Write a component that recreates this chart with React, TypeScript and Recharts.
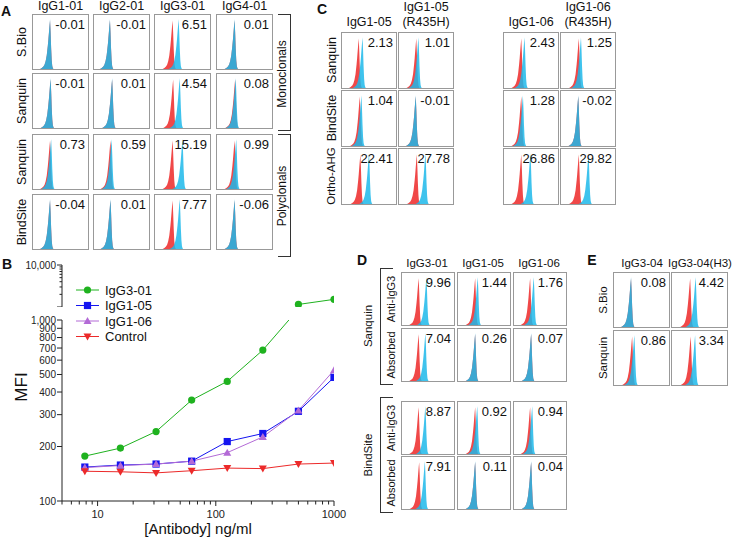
import React from 'react';
import { LineChart, Line, XAxis, YAxis, AreaChart, Area } from 'recharts';

const FONT = '"Liberation Sans", Arial, sans-serif';

// ---- panel B: dose response ----
const DOSES = [7.8, 15.6, 31.25, 62.5, 125, 250, 500, 1000];
const IGG3_01 = [177, 196, 242, 361, 458, 682, 1150, 1520];
const IGG1_05 = [154, 158, 160, 166, 213, 236, 313, 482];
const IGG1_06 = [153, 157, 160, 166, 185, 226, 316, 528];
const CONTROL = [146, 145, 143, 147, 152, 151, 160, 162];

const X_TICKS = [5, 6, 7, 8, 9, 10, 20, 30, 40, 50, 60, 70, 80, 90, 100, 200, 300, 400, 500, 600, 700, 800, 900, 1000];
const Y_LOW_TICKS = [100, 200, 300, 400, 500, 600, 700, 800, 900, 1000];
const Y_HIGH_TICKS = [1000, 2000, 3000, 4000, 5000, 6000, 7000, 8000, 9000, 10000];

// ---- histogram panels ----
// one peak profile read off the cells (offset from apex in % of box width, relative height)
const PEAK_OFFSETS = [-18, -15, -12, -10, -8, -6, -4, -3, -2, -1, 0, 1, 2, 3, 4, 5, 6];
const PEAK_HEIGHTS = [0, 0.02, 0.05, 0.09, 0.16, 0.28, 0.48, 0.6, 0.74, 0.88, 1, 0.75, 0.42, 0.18, 0.06, 0.02, 0];

const A_COLS = ['IgG1-01', 'IgG2-01', 'IgG3-01', 'IgG4-01'];
const A_ROWS = ['S.Bio', 'Sanquin', 'Sanquin', 'BindSite'];
const A_VALUES = [
  ['-0.01', '-0.01', '6.51', '0.01'],
  ['-0.01', '0.01', '4.54', '0.08'],
  ['0.73', '0.59', '15.19', '0.99'],
  ['-0.04', '0.01', '7.77', '-0.06'],
];
const A_RED = [[31, 29, 32, 32], [32, 33, 33, 33], [31, 30, 32, 32], [31, 30, 32, 32]];
const A_BLUE = [[31, 29, 43, 32], [32, 33, 45, 34], [33, 32, 50, 35], [31, 30, 45, 32]];

const C_COLS = [['', 'IgG1-05'], ['IgG1-05', '(R435H)'], ['', 'IgG1-06'], ['IgG1-06', '(R435H)']];
const C_ROWS = ['Sanquin', 'BindSite', 'Ortho-AHG'];
const C_VALUES = [
  ['2.13', '1.01', '2.43', '1.25'],
  ['1.04', '-0.01', '1.28', '-0.02'],
  ['22.41', '27.78', '26.86', '29.82'],
];
const C_RED = [[31, 32, 32, 33], [33, 31, 32, 32], [34, 33, 32, 33]];
const C_BLUE = [[38, 36, 38, 37], [36, 31, 35, 32], [50, 49, 49, 51]];

const D_COLS = ['IgG3-01', 'IgG1-05', 'IgG1-06'];
const D_ROWS = ['Anti-IgG3', 'Absorbed', 'Anti-IgG3', 'Absorbed'];
const D_GROUPS = ['Sanquin', 'BindSite'];
const D_VALUES = [
  ['9.96', '1.44', '1.76'],
  ['7.04', '0.26', '0.07'],
  ['8.87', '0.92', '0.94'],
  ['7.91', '0.11', '0.04'],
];
const D_RED = [[32, 33, 31], [32, 33, 33], [32, 33, 31], [33, 33, 33]];
const D_BLUE = [[47, 38, 38], [45, 33, 33], [45, 37, 35], [44, 33, 33]];

const E_COLS = ['IgG3-04', 'IgG3-04(H3)'];
const E_ROWS = ['S.Bio', 'Sanquin'];
const E_VALUES = [['0.08', '4.42'], ['0.86', '3.34']];
const E_RED = [[31, 33], [33, 34]];
const E_BLUE = [[31, 43], [37, 42]];

const RED = '#f04848';
const BLUE = '#1db8ea';

function Txt({ x, y, children, size = 12, rotate = 0, bold = false }: any) {
  return (
    <div
      style={{
        position: 'absolute', left: x, top: y, fontSize: size, fontWeight: bold ? 'bold' : 'normal',
        whiteSpace: 'nowrap', lineHeight: 1, color: '#111',
        transform: `translate(-50%, -50%) rotate(${rotate}deg)`,
      }}
    >
      {children}
    </div>
  );
}

function peakRows(redPos: number, bluePos: number) {
  const rows: any[] = [];
  PEAK_OFFSETS.forEach((o, i) => {
    rows.push({ x: redPos + o, r: PEAK_HEIGHTS[i] * 0.9 });
    rows.push({ x: bluePos + o, b: PEAK_HEIGHTS[i] * 0.92 });
  });
  return rows.sort((a, b) => a.x - b.x);
}

function Hist({ left, top, w, h, value, redPos, bluePos }: any) {
  return (
    <div style={{ position: 'absolute', left, top, width: w, height: h, border: '1px solid #999', boxSizing: 'border-box', background: '#fff' }}>
      <AreaChart width={w - 2} height={h - 2} data={peakRows(redPos, bluePos)} margin={{ top: 0, right: 0, bottom: 0, left: 0 }}>
        <XAxis dataKey="x" type="number" domain={[0, 100]} hide />
        <YAxis domain={[0, 1]} hide />
        <Area dataKey="r" type="linear" fill={RED} fillOpacity={1} stroke="none" connectNulls dot={false} activeDot={false} isAnimationActive={false} />
        <Area dataKey="b" type="linear" fill={BLUE} fillOpacity={0.85} stroke="none" connectNulls dot={false} activeDot={false} isAnimationActive={false} />
      </AreaChart>
      <div style={{ position: 'absolute', right: 3, top: 3, fontSize: 13, lineHeight: 1, color: '#111' }}>{value}</div>
    </div>
  );
}

function HistGrid({ lefts, tops, w, h, values, red, blue }: any) {
  return (
    <>
      {tops.map((t: number, r: number) =>
        lefts.map((l: number, c: number) => (
          <Hist key={`${r}-${c}`} left={l} top={t} w={w} h={h} value={values[r][c]} redPos={red[r][c]} bluePos={blue[r][c]} />
        ))
      )}
    </>
  );
}

const fmt = (v: number) => v.toLocaleString('en-US');

function XTick({ x, y, payload }: any) {
  const v = payload.value;
  const major = v === 10 || v === 100 || v === 1000;
  return (
    <g>
      <line x1={x} x2={x} y1={y} y2={y + (major ? 5 : 3.5)} stroke="#222" />
      {major && (
        <text x={x} y={y + 17} textAnchor="middle" fontSize={11} fill="#222" fontFamily={FONT}>{v}</text>
      )}
    </g>
  );
}

function YLowTick({ x, y, payload }: any) {
  return (
    <g>
      <line x1={x - 5} x2={x} y1={y} y2={y} stroke="#222" />
      <text x={x - 6} y={y + 3.5} textAnchor="end" fontSize={10} fill="#222" fontFamily={FONT}>{fmt(payload.value)}</text>
    </g>
  );
}

function YHighTick({ x, y, payload }: any) {
  const v = payload.value;
  const major = v === 1000 || v === 10000;
  return (
    <g>
      <line x1={x - (major ? 5 : 2.5)} x2={x} y1={y} y2={y} stroke="#222" />
      {v === 10000 && (
        <text x={x - 6} y={y + 3.5} textAnchor="end" fontSize={10} fill="#222" fontFamily={FONT}>{fmt(v)}</text>
      )}
    </g>
  );
}

const SERIES = [
  { name: 'IgG3-01', values: IGG3_01, color: '#1fb21f', shape: 'circle' },
  { name: 'IgG1-05', values: IGG1_05, color: '#1414f0', shape: 'square' },
  { name: 'IgG1-06', values: IGG1_06, color: '#b36ad6', shape: 'up' },
  { name: 'Control', values: CONTROL, color: '#ec2a2a', shape: 'down' },
];

function Marker({ cx, cy, shape, color }: any) {
  if (cx == null || cy == null) return null;
  if (shape === 'circle') return <circle cx={cx} cy={cy} r={3.6} fill={color} />;
  if (shape === 'square') return <rect x={cx - 3.6} y={cy - 3.6} width={7.2} height={7.2} fill={color} />;
  if (shape === 'up') return <polygon points={`${cx},${cy - 4} ${cx - 4},${cy + 3} ${cx + 4},${cy + 3}`} fill={color} />;
  return <polygon points={`${cx},${cy + 4} ${cx - 4},${cy - 3} ${cx + 4},${cy - 3}`} fill={color} />;
}

const doseRows = DOSES.map((d, i) => {
  const row: any = { dose: d };
  SERIES.forEach((s) => { row[s.name] = s.values[i]; });
  row.high = IGG3_01[i] >= 1000 ? IGG3_01[i] : null;
  return row;
});

function PanelB() {
  const margin = { top: 70, right: 21, left: 7, bottom: 10 };
  return (
    <>
      <div style={{ position: 'absolute', left: 0, top: 250 }}>
        <LineChart width={355} height={57} data={doseRows} margin={{ top: 15, right: 21, left: 7, bottom: 0 }}>
          <XAxis dataKey="dose" type="number" scale="log" domain={[5, 1000]} hide allowDataOverflow />
          <YAxis type="number" scale="log" domain={[1000, 10000]} ticks={Y_HIGH_TICKS} width={55} allowDataOverflow
            tickLine={false} tickSize={0} tickMargin={0} tick={<YHighTick />} axisLine={{ stroke: '#222' }} interval={0} />
          <Line dataKey="high" stroke="#1fb21f" strokeWidth={1} isAnimationActive={false} dot={<Marker shape="circle" color="#1fb21f" />} activeDot={false} />
        </LineChart>
      </div>
      <div style={{ position: 'absolute', left: 0, top: 250 }}>
        <LineChart width={355} height={291} data={doseRows} margin={margin}>
          <XAxis dataKey="dose" type="number" scale="log" domain={[5, 1000]} ticks={X_TICKS} interval={0} allowDataOverflow
            height={30} tickLine={false} tickSize={0} tickMargin={0} tick={<XTick />} axisLine={{ stroke: '#222' }} />
          <YAxis type="number" scale="log" domain={[100, 1000]} ticks={Y_LOW_TICKS} width={55} allowDataOverflow interval={0}
            tickLine={false} tickSize={0} tickMargin={0} tick={<YLowTick />} axisLine={{ stroke: '#222' }} />
          {SERIES.map((s) => (
            <Line key={s.name} dataKey={s.name} stroke={s.color} strokeWidth={1} isAnimationActive={false}
              dot={<Marker shape={s.shape} color={s.color} />} activeDot={false} />
          ))}
        </LineChart>
      </div>
      <svg style={{ position: 'absolute', left: 70, top: 280 }} width={120} height={66}>
        {SERIES.map((s, i) => {
          const y = 10 + i * 15.5;
          return (
            <g key={s.name}>
              <line x1={6} x2={29} y1={y} y2={y} stroke={s.color} />
              <Marker cx={17.5} cy={y} shape={s.shape} color={s.color} />
              <text x={35} y={y + 4.5} fontSize={13} fill="#111" fontFamily={FONT}>{s.name}</text>
            </g>
          );
        })}
      </svg>
      <Txt x={21} y={387} size={17} rotate={-90}>MFI</Txt>
      <Txt x={198} y={528} size={15}>[Antibody] ng/ml</Txt>
    </>
  );
}

function Bracket({ x, y1, y2, dir }: any) {
  return (
    <>
      <div style={{ position: 'absolute', left: x, top: y1, width: 1, height: y2 - y1, background: '#333' }} />
      <div style={{ position: 'absolute', left: dir < 0 ? x - 12 : x, top: y1, width: 13, height: 1, background: '#333' }} />
      <div style={{ position: 'absolute', left: dir < 0 ? x - 12 : x, top: y2 - 1, width: 13, height: 1, background: '#333' }} />
    </>
  );
}

export default function App() {
  const aLefts = [32, 93, 154, 216];
  const aTops = [14, 73, 134, 194];
  const cLefts = [341, 398, 503, 560];
  const cTops = [32, 90, 148];
  const dLefts = [401, 457, 513];
  const dTops = [272, 328, 401, 456];
  const eLefts = [613, 671];
  const eTops = [272, 330];
  return (
    <div style={{ position: 'fixed', left: 0, top: 0, width: 736, height: 541, background: '#fff', fontFamily: FONT, overflow: 'hidden' }}>
      {/* A */}
      <Txt x={6} y={11} size={14} bold>A</Txt>
      {A_COLS.map((c, i) => <Txt key={c} x={aLefts[i] + 28.5} y={6} size={12.5}>{c}</Txt>)}
      {A_ROWS.map((r, i) => <Txt key={i} x={22} y={aTops[i] + 28} size={12.5} rotate={-90}>{r}</Txt>)}
      <HistGrid lefts={aLefts} tops={aTops} w={57} h={56} values={A_VALUES} red={A_RED} blue={A_BLUE} />
      <Bracket x={290} y1={14} y2={131} dir={-1} />
      <Bracket x={290} y1={134} y2={257} dir={-1} />
      <Txt x={282} y={74} size={12} rotate={-90}>Monoclonals</Txt>
      <Txt x={282} y={196} size={12} rotate={-90}>Polyclonals</Txt>

      {/* B */}
      <Txt x={7} y={264} size={14} bold>B</Txt>
      <PanelB />

      {/* C */}
      <Txt x={322} y={9} size={14} bold>C</Txt>
      {C_COLS.map((c, i) => (
        <React.Fragment key={i}>
          {c[0] && <Txt x={cLefts[i] + 28} y={7} size={12.5}>{c[0]}</Txt>}
          <Txt x={cLefts[i] + 28} y={22} size={12.5}>{c[1]}</Txt>
        </React.Fragment>
      ))}
      {C_ROWS.map((r, i) => <Txt key={i} x={332} y={cTops[i] + 28} size={i === 2 ? 11.5 : 12.5} rotate={-90}>{r}</Txt>)}
      <HistGrid lefts={cLefts} tops={cTops} w={56} h={57} values={C_VALUES} red={C_RED} blue={C_BLUE} />

      {/* D */}
      <Txt x={362} y={260} size={14} bold>D</Txt>
      {D_COLS.map((c, i) => <Txt key={c} x={dLefts[i] + 26} y={264} size={11.5}>{c}</Txt>)}
      {D_ROWS.map((r, i) => <Txt key={i} x={391} y={dTops[i] + 27} size={11} rotate={-90}>{r}</Txt>)}
      {D_GROUPS.map((g, i) => <Txt key={g} x={369} y={dTops[i * 2] + 54} size={11.5} rotate={-90}>{g}</Txt>)}
      <Bracket x={380} y1={268} y2={385} dir={1} />
      <Bracket x={380} y1={397} y2={513} dir={1} />
      <HistGrid lefts={dLefts} tops={dTops} w={54} h={54} values={D_VALUES} red={D_RED} blue={D_BLUE} />

      {/* E */}
      <Txt x={592} y={260} size={14} bold>E</Txt>
      {E_COLS.map((c, i) => <Txt key={c} x={eLefts[i] + 29} y={264} size={11.5}>{c}</Txt>)}
      {E_ROWS.map((r, i) => <Txt key={i} x={604} y={eTops[i] + 28} size={11.5} rotate={-90}>{r}</Txt>)}
      <HistGrid lefts={eLefts} tops={eTops} w={57} h={56} values={E_VALUES} red={E_RED} blue={E_BLUE} />
    </div>
  );
}
